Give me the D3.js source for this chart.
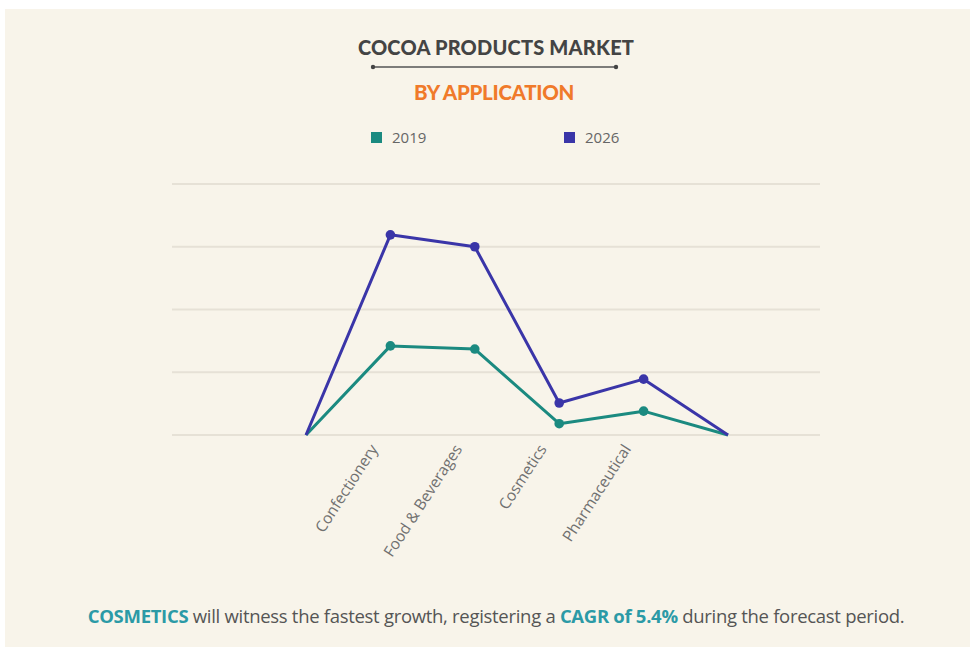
<!DOCTYPE html>
<html>
<head>
<meta charset="utf-8">
<script src="https://cdn.jsdelivr.net/npm/d3@7"></script>
<style>
  html, body { margin: 0; padding: 0; background: #ffffff; }
  svg { display: block; }
</style>
</head>
<body>
<svg id="chart" width="970" height="647"></svg>
<script>
// Categories along the x axis; the blank ends anchor the lines at zero.
const categories = ["", "Confectionery", "Food & Beverages", "Cosmetics", "Pharmaceutical", " "];
const seriesNames = ["2019", "2026"];
const values2019 = [0, 1.42, 1.37, 0.18, 0.38, 0];
const values2026 = [0, 3.19, 3.00, 0.51, 0.89, 0];
const gridTicks = [0, 1, 2, 3, 4];
const colors = { "2019": "#1b8a80", "2026": "#3a35a8" };

const svg = d3.select("#chart");
const W = 970, H = 647;

// Panel background
svg.append("rect").attr("x", 5).attr("y", 9).attr("width", W - 5).attr("height", H - 9)
  .attr("fill", "#f8f4ea");

// Titles
svg.append("text").attr("x", 496).attr("y", 55).attr("text-anchor", "middle")
  .attr("font-family", "Lato, 'Open Sans', sans-serif").attr("font-weight", 900)
  .attr("font-size", 20).attr("fill", "#444").attr("letter-spacing", 0.2)
  .text("COCOA PRODUCTS MARKET");
svg.append("line").attr("x1", 373).attr("x2", 616).attr("y1", 67).attr("y2", 67)
  .attr("stroke", "#555").attr("stroke-width", 1.3);
[373, 616].forEach(x => svg.append("circle").attr("cx", x).attr("cy", 67).attr("r", 2.2).attr("fill", "#444"));
svg.append("text").attr("x", 494).attr("y", 100).attr("text-anchor", "middle")
  .attr("font-family", "Lato, 'Open Sans', sans-serif").attr("font-weight", 900)
  .attr("font-size", 20.5).attr("fill", "#f07a2a").attr("letter-spacing", -0.3)
  .text("BY APPLICATION");

// Legend
const legendX = [371, 564];
seriesNames.forEach((name, i) => {
  const g = svg.append("g").attr("transform", `translate(${legendX[i]},132)`);
  g.append("rect").attr("width", 11).attr("height", 11).attr("fill", colors[name]);
  g.append("text").attr("x", 21).attr("y", 11)
    .attr("font-family", "'Open Sans', sans-serif").attr("font-size", 15)
    .attr("fill", "#666").text(name);
});

// Scales
const x = d3.scalePoint().domain(categories).range([306, 728]);
const y = d3.scaleLinear().domain([0, 4]).range([435, 184]);

// Horizontal gridlines
svg.append("g").selectAll("line").data(gridTicks).join("line")
  .attr("x1", 172).attr("x2", 820)
  .attr("y1", d => y(d)).attr("y2", d => y(d))
  .attr("stroke", "#e6e1d6").attr("stroke-width", 2);

// Rotated category labels
const xAxis = d3.axisBottom(x).tickSize(0).tickPadding(0);
const axisG = svg.append("g").attr("transform", "translate(0,440)").call(xAxis);
axisG.select(".domain").remove();
axisG.selectAll("text")
  .attr("font-family", "'Open Sans', sans-serif").attr("font-size", 15.5)
  .attr("fill", "#707070")
  .attr("text-anchor", "end")
  .attr("dy", "0.35em")
  .attr("transform", "translate(-17,6) rotate(-57)");

// Series lines and markers
const series = [
  { name: "2019", values: values2019 },
  { name: "2026", values: values2026 }
];
const line = d3.line().x((d, i) => x(categories[i])).y(d => y(d));
series.forEach(s => {
  svg.append("path").datum(s.values)
    .attr("fill", "none").attr("stroke", colors[s.name]).attr("stroke-width", 3)
    .attr("stroke-linejoin", "round")
    .attr("d", line);
  svg.append("g").selectAll("circle")
    .data(s.values.map((v, i) => ({ v, i })).filter(d => d.i > 0 && d.i < categories.length - 1))
    .join("circle")
    .attr("cx", d => x(categories[d.i])).attr("cy", d => y(d.v))
    .attr("r", 4.8).attr("fill", colors[s.name]);
});

// Footer note
const foot = svg.append("text").attr("x", 496).attr("y", 623).attr("text-anchor", "middle")
  .attr("font-family", "'Open Sans', sans-serif").attr("font-size", 18.5).attr("fill", "#555")
  .attr("letter-spacing", -0.3);
foot.append("tspan").attr("font-weight", 700).attr("fill", "#2b9aa6").text("COSMETICS");
foot.append("tspan").text(" will witness the fastest growth, registering a ");
foot.append("tspan").attr("font-weight", 700).attr("fill", "#2b9aa6").text("CAGR of 5.4%");
foot.append("tspan").text(" during the forecast period.");
</script>
</body>
</html>
